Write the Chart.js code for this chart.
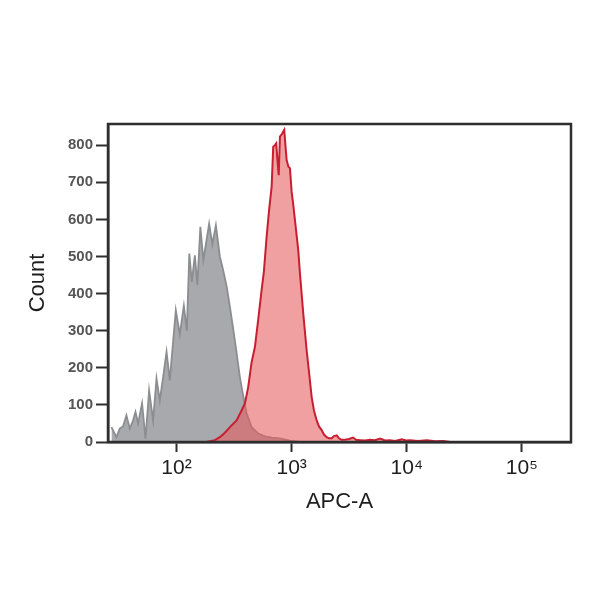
<!DOCTYPE html>
<html>
<head>
<meta charset="utf-8">
<script src="https://cdn.jsdelivr.net/npm/chart.js@4/dist/chart.umd.min.js"></script>
<style>
  html, body { margin: 0; padding: 0; background: #ffffff; }
  #wrap { width: 600px; height: 600px; }
</style>
</head>
<body>
<div id="wrap"><canvas id="c" width="600" height="600"></canvas></div>
<script>
// ---- Data ----
// Grey (control) histogram: APC-A value and count
const greyX = [27.2, 30.1, 32.1, 34.3, 36.7, 39.3, 41.9, 44.0, 46.4, 50.2, 53.8, 57.8, 62.6, 67.0, 71.6, 76.5, 81.9, 87.4, 98.6, 106.8, 115.8, 122.9, 129.2, 135.8, 144.3, 151.7, 161.1, 171.0, 192.0, 204.8, 219.7, 237.9, 254.2, 272.3, 290.8, 310.7, 332.5, 355.1, 379.3, 406.1, 448.9, 512.4, 586.1, 674.2, 791.2, 966.5, 1181];
const greyY = [40, 13, 36, 42, 72, 36, 58, 81, 50, 104, 9, 139, 58, 171, 112, 175, 243, 166, 355, 290, 367, 300, 508, 431, 503, 423, 580, 490, 588, 533, 584, 500, 463, 420, 365, 305, 240, 175, 125, 77, 40, 23, 15, 12, 10, 4, 0];

// Red (stained) histogram: APC-A value and count
const redX = [182.3, 215.3, 237.9, 263.0, 290.8, 332.5, 367.4, 392.6, 419.4, 448.9, 479.5, 512.4, 548.4, 574.2, 606.2, 634.7, 670.2, 691.8, 715.8, 734.7, 752.5, 772.3, 791.2, 823.4, 862.1, 883.0, 904.5, 937.7, 966.5, 1000, 1032.5, 1068.4, 1141.3, 1181, 1261.6, 1350.1, 1413.7, 1492.5, 1562.9, 1650.1, 1727.8, 1823.2, 1909, 2015.6, 2110.6, 2227.8, 2332.8, 2462.8, 2578.9, 2722.7, 2966.7, 3150, 3412, 3624, 3926, 4339, 4796, 5302, 5859, 6476, 7158, 7912, 9045, 9860, 10684, 12540, 14925, 17625, 20690, 23790];
const redY = [0, 5, 13, 25, 40, 58, 85, 104, 148, 215, 256, 330, 409, 460, 553, 620, 688, 796, 800, 805, 760, 719, 823, 830, 841, 800, 760, 742, 738, 674, 640, 598, 517, 454, 346, 247, 190, 121, 85, 58, 42, 32, 20, 13, 10, 10, 16, 18, 10, 6, 7, 8, 12, 6, 5, 4, 6, 5, 9, 4, 5, 3, 7, 4, 5, 3, 5, 2, 3, 0];

// Axis ticks
const xTickValues = [100, 1000, 10000, 100000];
const xTickLabels = ['10\u00B2', '10\u00B3', '10\u2074', '10\u2075'];
const yTickValues = [0, 100, 200, 300, 400, 500, 600, 700, 800];
const xMin = 25.4, xMax = 267000;
const yMin = 0, yMax = 857;

const toPts = (xs, ys) => xs.map((x, i) => ({ x: x, y: ys[i] }));

const framePlugin = {
  id: 'frame',
  afterDatasetsDraw(chart) {
    const a = chart.chartArea, ctx = chart.ctx;
    ctx.save();
    ctx.strokeStyle = '#2e2e2e';
    ctx.lineWidth = 2.5;
    ctx.strokeRect(a.left, a.top, a.right - a.left, a.bottom - a.top);
    ctx.restore();
  }
};

new Chart(document.getElementById('c'), {
  type: 'line',
  data: {
    datasets: [
      {
        label: 'Control',
        data: toPts(greyX, greyY),
        borderColor: '#8c8d90',
        borderWidth: 1.8,
        backgroundColor: '#a7a9ad',
        fill: 'origin',
        pointRadius: 0,
        tension: 0,
        order: 2
      },
      {
        label: 'APC',
        data: toPts(redX, redY),
        borderColor: '#c81e32',
        borderWidth: 2,
        backgroundColor: 'rgba(230, 94, 94, 0.59)',
        fill: 'origin',
        pointRadius: 0,
        tension: 0,
        order: 1
      }
    ]
  },
  options: {
    responsive: false,
    animation: false,
    devicePixelRatio: 1,
    layout: { padding: { top: 124, right: 29, bottom: 85, left: 25 } },
    plugins: {
      legend: { display: false },
      tooltip: { enabled: false }
    },
    scales: {
      x: {
        type: 'logarithmic',
        min: xMin,
        max: xMax,
        afterBuildTicks(scale) {
          scale.ticks = xTickValues.map(v => ({ value: v }));
        },
        afterFit(scale) { scale.height = 73; },
        grid: {
          drawOnChartArea: false,
          drawTicks: true,
          tickLength: 10,
          tickColor: '#2e2e2e',
          tickWidth: 2
        },
        border: { display: true, color: '#2e2e2e', width: 2.5 },
        ticks: {
          autoSkip: false,
          maxRotation: 0,
          padding: 4,
          color: '#1e1e1e',
          font: { family: 'Liberation Sans, Arial, sans-serif', size: 21 },
          callback(value) {
            const i = xTickValues.indexOf(value);
            return i >= 0 ? xTickLabels[i] : '';
          }
        },
        title: {
          display: true,
          text: 'APC-A',
          color: '#1e1e1e',
          font: { family: 'Liberation Sans, Arial, sans-serif', size: 22 },
          padding: { top: 8, bottom: 0 }
        }
      },
      y: {
        type: 'linear',
        min: yMin,
        max: yMax,
        afterBuildTicks(scale) {
          scale.ticks = yTickValues.map(v => ({ value: v }));
        },
        afterFit(scale) { scale.width = 83; },
        grid: {
          drawOnChartArea: false,
          drawTicks: true,
          tickLength: 12,
          tickColor: '#2e2e2e',
          tickWidth: 2
        },
        border: { display: true, color: '#2e2e2e', width: 2.5 },
        ticks: {
          padding: 3,
          color: '#555555',
          font: { family: 'Liberation Sans, Arial, sans-serif', size: 15, weight: 'bold' }
        },
        title: {
          display: true,
          text: 'Count',
          color: '#1e1e1e',
          font: { family: 'Liberation Sans, Arial, sans-serif', size: 22 },
          padding: { top: 0, bottom: 0 }
        }
      }
    }
  },
  plugins: [framePlugin]
});
</script>
</body>
</html>
